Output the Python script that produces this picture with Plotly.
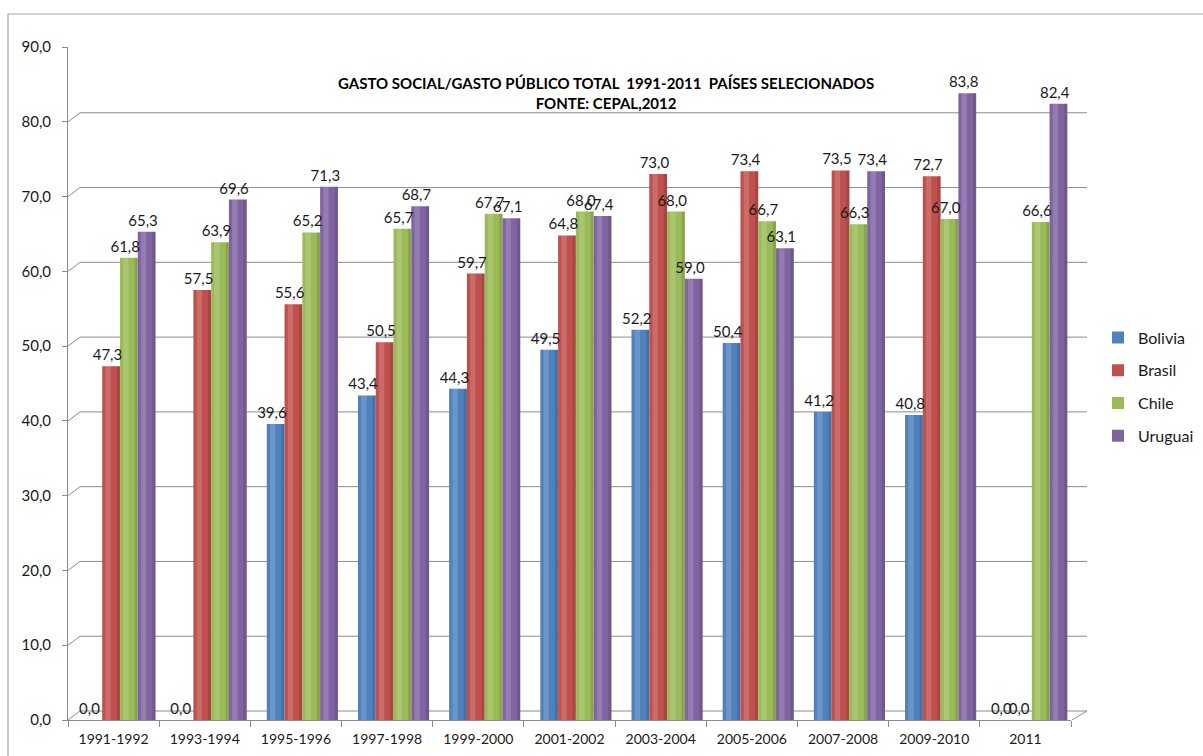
import plotly.graph_objects as go

# Periods (x categories)
periods = ["1991-1992", "1993-1994", "1995-1996", "1997-1998", "1999-2000",
           "2001-2002", "2003-2004", "2005-2006", "2007-2008", "2009-2010", "2011"]

# Social spending as share of total public spending (%)
bolivia = [0.0, 0.0, 39.6, 43.4, 44.3, 49.5, 52.2, 50.4, 41.2, 40.8, 0.0]
brasil = [47.3, 57.5, 55.6, 50.5, 59.7, 64.8, 73.0, 73.4, 73.5, 72.7, 0.0]
chile = [61.8, 63.9, 65.2, 65.7, 67.7, 68.0, 68.0, 66.7, 66.3, 67.0, 66.6]
uruguai = [65.3, 69.6, 71.3, 68.7, 67.1, 67.4, 59.0, 63.1, 73.4, 83.8, 82.4]

y_ticks = [0, 10, 20, 30, 40, 50, 60, 70, 80, 90]

FONT = "Lato, 'Open Sans', sans-serif"
TEXT = "#1a1a1a"
GRID = "#8c8c8c"

series = [
    ("Bolivia", bolivia, "#4F81BD"),
    ("Brasil", brasil, "#C0504D"),
    ("Chile", chile, "#9BBB59"),
    ("Uruguai", uruguai, "#8064A2"),
]

BAR_W = 0.195
START = -0.32

fig = go.Figure()
for i, (name, vals, color) in enumerate(series):
    off = START + i * BAR_W
    fig.add_trace(go.Bar(
        x=periods, y=vals, name=name,
        width=BAR_W, offset=off,
        marker=dict(color=color, line=dict(width=0)),
        legendgroup=name,
    ))
    # cylinder shading: soft highlight and darker right edge
    fig.add_trace(go.Bar(
        x=periods, y=vals, width=BAR_W * 0.3, offset=off + BAR_W * 0.18,
        marker=dict(color="rgba(255,255,255,0.16)", line=dict(width=0)),
        showlegend=False, hoverinfo="skip",
    ))
    fig.add_trace(go.Bar(
        x=periods, y=vals, width=BAR_W * 0.18, offset=off + BAR_W * 0.82,
        marker=dict(color="rgba(0,0,0,0.12)", line=dict(width=0)),
        showlegend=False, hoverinfo="skip",
    ))

# value labels on top of every bar, drawn last so no bar hides them
for i, (name, vals, color) in enumerate(series):
    off = START + i * BAR_W - 0.04
    fig.add_trace(go.Bar(
        x=periods, y=vals, width=BAR_W, offset=off,
        marker=dict(color="rgba(0,0,0,0)", line=dict(width=0)),
        texttemplate="%{y:.1f}", textposition="outside",
        constraintext="none", cliponaxis=False,
        textfont=dict(family=FONT, size=15, color=TEXT),
        showlegend=False, hoverinfo="skip",
    ))

# plot area in pixels
L, R, T, B = 68, 132, 47, 36
DX, DY = 12, 9  # depth offset of the back wall

shapes = []
for v in y_ticks:
    # back-wall gridline
    shapes.append(dict(type="line", xref="paper", yref="y",
                       xsizemode="pixel", xanchor=0, x0=DX, x1=1087 - L,
                       ysizemode="pixel", yanchor=v, y0=DY, y1=DY,
                       line=dict(color=GRID, width=1), layer="below"))
    # side wall diagonal from the axis tick to the back wall
    shapes.append(dict(type="line", xref="paper", yref="y",
                       xsizemode="pixel", xanchor=0, x0=0, x1=DX,
                       ysizemode="pixel", yanchor=v, y0=0, y1=DY,
                       line=dict(color=GRID, width=1), layer="below"))
# floor right edge
shapes.append(dict(type="line", xref="paper", yref="y",
                   xsizemode="pixel", xanchor=1, x0=1, x1=1087 - 1071,
                   ysizemode="pixel", yanchor=0, y0=0, y1=DY,
                   line=dict(color=GRID, width=1), layer="below"))
# outer chart frame
shapes.append(dict(type="rect", xref="paper", yref="paper",
                   x0=(8 - L) / 1003, x1=1.3, y0=-0.2, y1=(720 - 14) / 673,
                   line=dict(color="#a6a6a6", width=1.2), fillcolor="rgba(0,0,0,0)"))

fig.update_layout(
    width=1203, height=756,
    margin=dict(l=L, r=R, t=T, b=B, autoexpand=False),
    paper_bgcolor="white", plot_bgcolor="white",
    separators=",.",
    barmode="group",
    font=dict(family=FONT, size=14, color=TEXT),
    shapes=shapes,
    showlegend=True,
    legend=dict(x=(1098 - L) / 1003, xanchor="left", y=(720 - 387) / 673, yanchor="middle",
                font=dict(family=FONT, size=16, color=TEXT),
                tracegroupgap=9, traceorder="grouped", itemwidth=30),
    annotations=[dict(
        text="GASTO SOCIAL/GASTO PÚBLICO TOTAL  1991-2011  PAÍSES SELECIONADOS<br>FONTE: CEPAL,2012",
        xref="paper", yref="paper", x=(606 - L) / 1003, y=(720 - 93) / 673,
        xanchor="center", yanchor="middle", showarrow=False,
        font=dict(family=FONT, size=15, color="#000000", weight="bold"),
    )],
)

fig.update_xaxes(
    type="category", categoryorder="array", categoryarray=periods,
    range=[-0.5, 10.5], tickson="boundaries", ticks="outside", ticklen=6,
    tickcolor=GRID, showline=True, linecolor=GRID, showgrid=False,
    ticklabelstandoff=6,
    tickfont=dict(family=FONT, size=14, color=TEXT), zeroline=False,
)
fig.update_yaxes(
    range=[0, 90], tickvals=y_ticks, tickformat=".1f",
    ticks="outside", ticklen=5, tickcolor=GRID, ticklabelstandoff=8,
    showline=True, linecolor=GRID, showgrid=False, zeroline=False,
    tickfont=dict(family=FONT, size=15, color=TEXT),
)

fig.write_html("out.html")
